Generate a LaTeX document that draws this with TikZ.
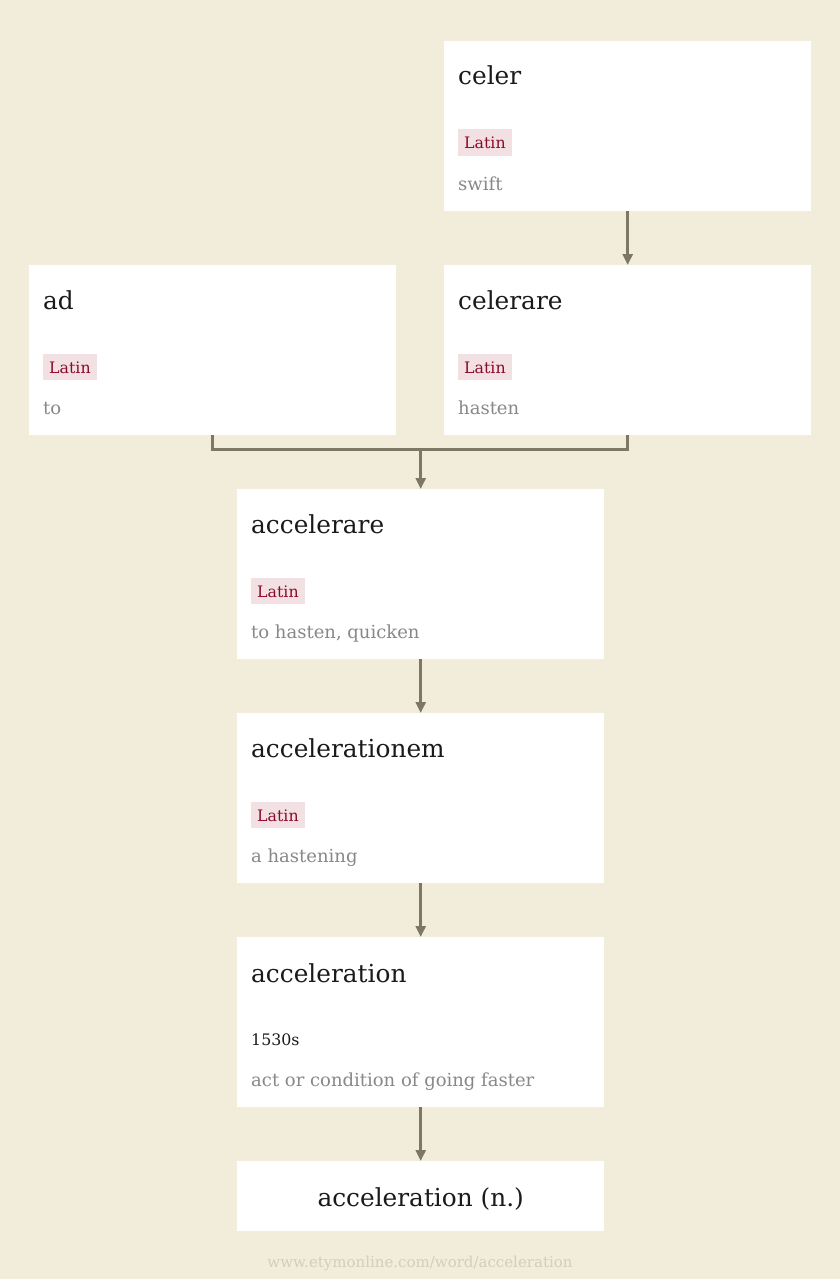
\documentclass[tikz,border=0pt]{standalone}
\usepackage{fontspec}
\setmainfont{DejaVu Serif}
\usetikzlibrary{arrows.meta}
\definecolor{bg}{HTML}{F2ECDA}
\definecolor{edgecol}{HTML}{7F7766}
\definecolor{tagbg}{HTML}{F2E0E3}
\definecolor{tagfg}{HTML}{8B0A2A}
\definecolor{gloss}{HTML}{888888}
\definecolor{foot}{HTML}{D6CDBA}
\definecolor{ink}{HTML}{1A1A1A}
\tikzset{
  card/.style={fill=white, draw=none, inner sep=0pt, minimum width=367pt, anchor=north west},
  headword/.style={anchor=base west, inner sep=0pt, text=ink, font=\fontsize{24.8}{28}\selectfont},
  langtag/.style={anchor=base west, fill=tagbg, text=tagfg, inner xsep=6pt, inner ysep=2.5pt,
    text height=17pt, text depth=4pt, font=\fontsize{15.8}{18}\selectfont},
  datetext/.style={anchor=base west, inner sep=0pt, text=ink, font=\fontsize{15.8}{18}\selectfont},
  glosstext/.style={anchor=base west, inner sep=0pt, text=gloss, font=\fontsize{18}{21}\selectfont},
  link/.style={draw=edgecol, line width=2.8pt},
  linkarrow/.style={link, -{Triangle[length=11pt,width=10pt]}}
}
\begin{document}
\begin{tikzpicture}[x=1pt,y=-1pt]
\fill[bg] (0,0) rectangle (840,1279);
\useasboundingbox (0,0) rectangle (840,1279);

% cards
\node[card, minimum height=170pt] (celer) at (444,41) {};
\node[card, minimum height=170pt] (ad) at (29,265) {};
\node[card, minimum height=170pt] (celerare) at (444,265) {};
\node[card, minimum height=170pt] (accelerare) at (237,489) {};
\node[card, minimum height=170pt] (accelerationem) at (237,713) {};
\node[card, minimum height=170pt] (acceleration) at (237,937) {};
\node[card, minimum height=70pt] (final) at (237,1161) {};

% texts
\node[headword] (celerH) at ([shift={(14,44)}]celer.north west) {celer};
\node[langtag] (celerL) at ([shift={(14,108)}]celer.north west) {Latin};
\node[glosstext] (celerG) at ([shift={(14,149)}]celer.north west) {swift};

\node[headword] (adH) at ([shift={(14,44)}]ad.north west) {ad};
\node[langtag] (adL) at ([shift={(14,108)}]ad.north west) {Latin};
\node[glosstext] (adG) at ([shift={(14,149)}]ad.north west) {to};

\node[headword] (celerareH) at ([shift={(14,44)}]celerare.north west) {celerare};
\node[langtag] (celerareL) at ([shift={(14,108)}]celerare.north west) {Latin};
\node[glosstext] (celerareG) at ([shift={(14,149)}]celerare.north west) {hasten};

\node[headword] (accelerareH) at ([shift={(14,44)}]accelerare.north west) {accelerare};
\node[langtag] (accelerareL) at ([shift={(14,108)}]accelerare.north west) {Latin};
\node[glosstext] (accelerareG) at ([shift={(14,149)}]accelerare.north west) {to hasten, quicken};

\node[headword] (accelerationemH) at ([shift={(14,44)}]accelerationem.north west) {accelerationem};
\node[langtag] (accelerationemL) at ([shift={(14,108)}]accelerationem.north west) {Latin};
\node[glosstext] (accelerationemG) at ([shift={(14,149)}]accelerationem.north west) {a hastening};

\node[headword] (accelerationH) at ([shift={(14,45)}]acceleration.north west) {acceleration};
\node[datetext] (accelerationD) at ([shift={(14,108)}]acceleration.north west) {1530s};
\node[glosstext] (accelerationG) at ([shift={(14,149)}]acceleration.north west) {act or condition of going faster};

\node[headword, anchor=base] (finalH) at ([shift={(0,45)}]final.north) {acceleration (n.)};

\node[anchor=base, inner sep=0pt, text=foot, font=\fontsize{15}{17}\selectfont] (footer) at (420,1267) {www.etymonline.com/word/acceleration};

% connectors
\draw[linkarrow] (celer.south) -- (celerare.north);
\coordinate (merge) at ([shift={(0,14)}]ad.south -| accelerare.north);
\draw[link] (ad.south) |- (merge) -| (celerare.south);
\draw[linkarrow] (merge) -- (accelerare.north);
\draw[linkarrow] (accelerare.south) -- (accelerationem.north);
\draw[linkarrow] (accelerationem.south) -- (acceleration.north);
\draw[linkarrow] (acceleration.south) -- (final.north);
\end{tikzpicture}
\end{document}
